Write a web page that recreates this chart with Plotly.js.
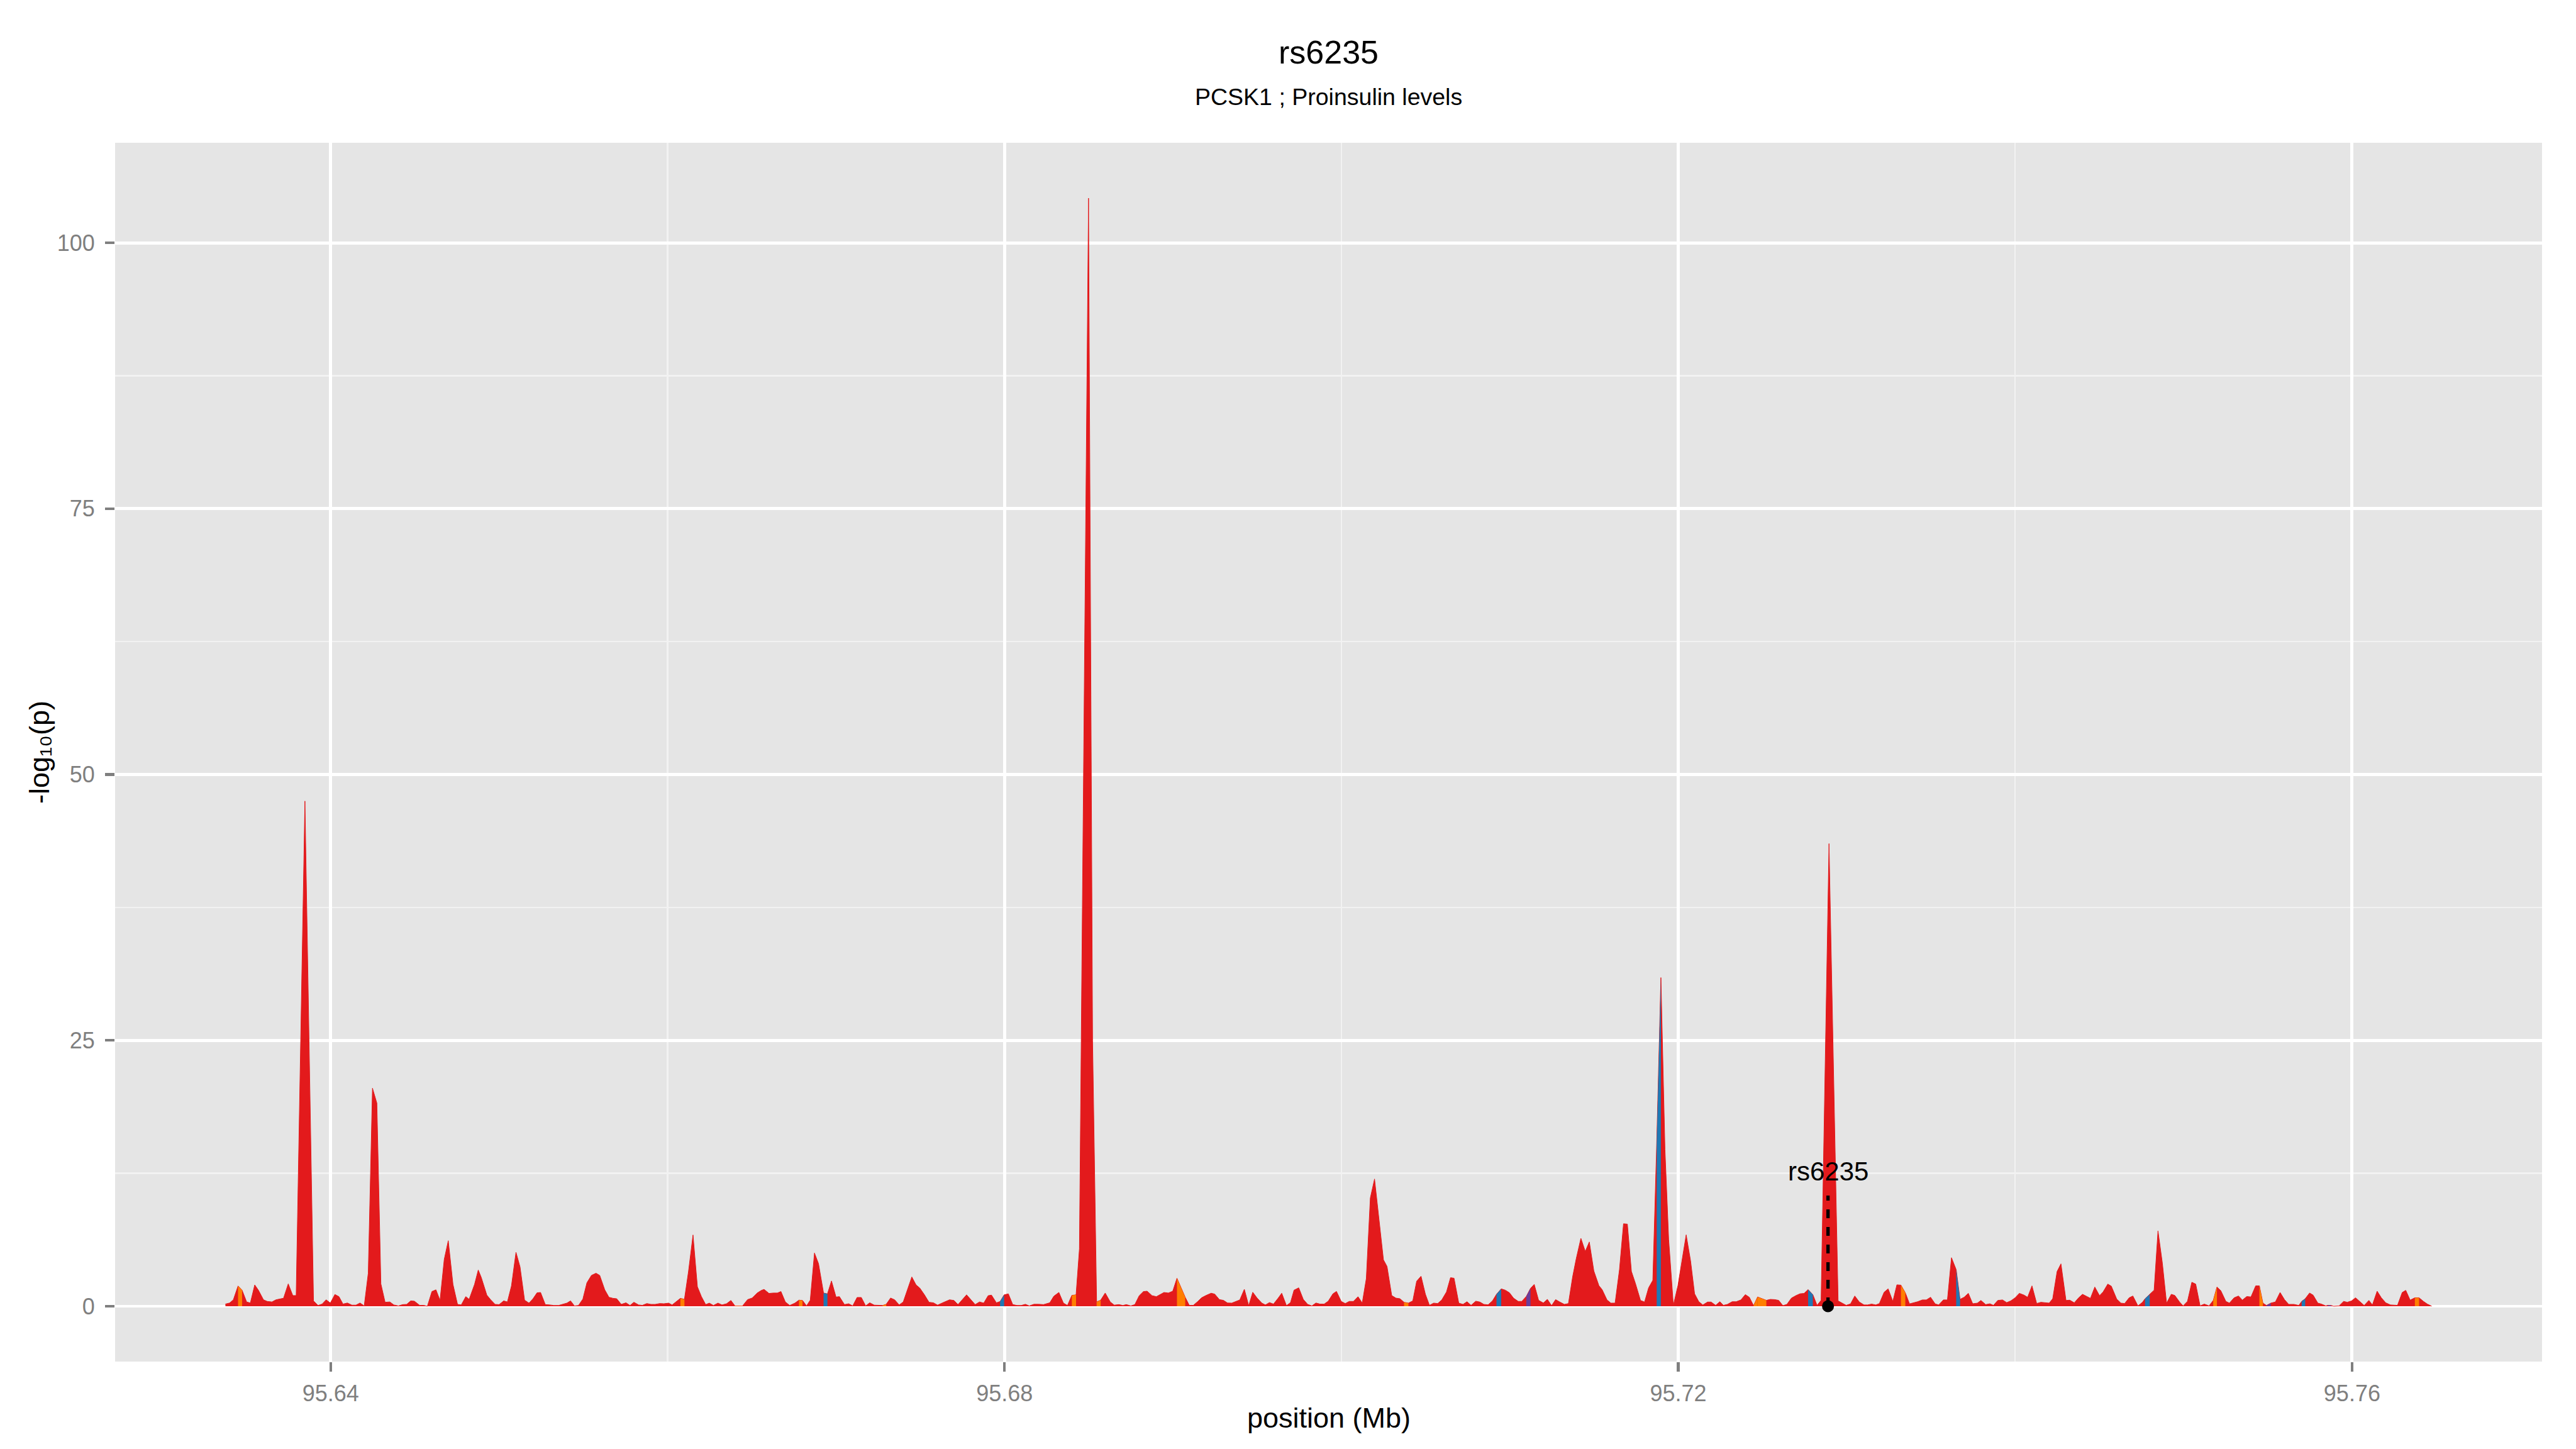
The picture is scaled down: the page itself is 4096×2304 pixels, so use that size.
<!DOCTYPE html>
<html>
<head>
<meta charset="utf-8">
<script src="https://cdn.plot.ly/plotly-3.0.1.min.js"></script>
<style>
  html, body { margin: 0; padding: 0; background: #ffffff; }
  #chart { width: 4096px; height: 2304px; }
</style>
</head>
<body>
<div id="chart"></div>
<script>
// ---------------- DATA ----------------
const chartTitle = 'rs6235';
const chartSubtitle = 'PCSK1 ; Proinsulin levels';
const xAxisTitle = 'position (Mb)';
const yAxisTitle = '-log\u2081\u2080(p)';

// SNP positions (Mb)
const positionMb = [
95.63375,95.63400,95.63422,95.63450,95.63474,95.63488,95.63501,95.63523,95.63549,95.63571,
95.63601,95.63623,95.63651,95.63675,95.63720,95.63748,95.63775,95.63795,95.63847,95.63898,
95.63925,95.63949,95.63973,95.63998,95.64025,95.64049,95.64073,95.64099,95.64126,95.64150,
95.64174,95.64199,95.64223,95.64248,95.64274,95.64298,95.64323,95.64351,95.64375,95.64402,
95.64428,95.64451,95.64475,95.64497,95.64528,95.64552,95.64574,95.64601,95.64625,95.64649,
95.64674,95.64698,95.64726,95.64753,95.64775,95.64802,95.64822,95.64854,95.64876,95.64894,
95.64927,95.64949,95.64976,95.65000,95.65027,95.65049,95.65073,95.65100,95.65124,95.65151,
95.65177,95.65201,95.65225,95.65246,95.65274,95.65301,95.65325,95.65353,95.65380,95.65402,
95.65424,95.65447,95.65471,95.65497,95.65521,95.65548,95.65575,95.65597,95.65627,95.65652,
95.65676,95.65698,95.65725,95.65753,95.65777,95.65800,95.65828,95.65850,95.65877,95.65901,
95.65926,95.65954,95.65978,95.66006,95.66027,
95.66049,95.66076,95.66100,95.66124,95.66151,95.66177,95.66201,95.66226,95.66248,95.66272,
95.66299,95.66323,95.66350,95.66376,95.66400,95.66445,95.66475,95.66502,95.66532,95.66557,
95.66573,95.66602,95.66628,95.66652,95.66673,95.66699,95.66725,95.66756,95.66780,95.66801,
95.66825,95.66847,95.66872,95.66896,95.66926,95.66949,95.66973,95.67000,95.67020,95.67050,
95.67075,95.67099,95.67125,95.67150,95.67176,95.67200,95.67227,95.67253,95.67277,95.67298,
95.67324,95.67348,95.67375,95.67399,95.67450,95.67475,95.67497,95.67525,95.67552,95.67578,
95.67603,95.67633,95.67674,95.67700,95.67724,95.67775,95.67802,95.67826,95.67852,95.67877,
95.67903,95.67923,95.67952,95.67974,95.67998,95.68023,95.68049,95.68074,95.68100,95.68124,
95.68147,95.68175,95.68202,95.68232,95.68269,95.68293,95.68323,95.68350,95.68374,95.68400,
95.68425,95.68445,95.68499,95.68523,95.68547,95.68571,95.68598,95.68628,95.68652,95.68679,
95.68703,95.68723,95.68750,95.68774,95.68800,95.68825,95.68847,95.68876,95.68902,95.68947,
95.68973,95.68999,95.69024,
95.69073,95.69097,95.69121,95.69146,95.69170,95.69195,95.69227,95.69248,95.69276,95.69300,
95.69324,95.69349,95.69373,95.69397,95.69424,95.69450,95.69474,95.69500,95.69528,95.69549,
95.69573,95.69597,95.69625,95.69646,95.69674,95.69698,95.69719,95.69747,95.69774,95.69800,
95.69825,95.69849,95.69873,95.69898,95.69922,95.69950,95.69971,95.69999,95.70023,95.70047,
95.70072,95.70099,95.70124,95.70148,95.70172,95.70197,95.70250,95.70271,95.70299,95.70324,
95.70348,95.70372,95.70398,95.70424,95.70447,95.70473,95.70499,95.70523,95.70548,95.70572,
95.70596,95.70624,95.70648,95.70669,95.70697,95.70722,95.70746,95.70770,95.70798,95.70822,
95.70846,95.70871,95.70897,95.70921,95.70949,95.70973,95.70998,95.71022,95.71050,95.71071,
95.71098,
95.71123,95.71145,95.71171,95.71199,95.71223,95.71248,95.71272,95.71297,95.71324,95.71348,
95.71373,95.71394,95.71422,95.71448,95.71472,95.71499,95.71529,95.71548,95.71577,95.71600,
95.71625,95.71651,95.71675,95.71698,95.71722,95.71746,95.71776,95.71800,95.71824,95.71849,
95.71872,95.71897,95.71921,95.71943,95.71971,95.71998,95.72023,95.72047,95.72073,95.72097,
95.72122,95.72146,95.72174,95.72195,95.72222,95.72247,95.72268,95.72292,95.72320,95.72344,
95.72372,95.72398,95.72422,95.72447,95.72471,95.72523,95.72547,95.72572,95.72596,95.72621,
95.72645,95.72672,95.72699,95.72723,95.72747,95.72771,95.72799,95.72824,95.72848,95.72895,
95.72949,95.72975,95.72997,95.73023,95.73048,95.73075,95.73103,95.73124,95.73148,95.73173,
95.73194,95.73222,95.73246,95.73274,95.73298,95.73322,95.73348,95.73373,95.73397,95.73421,
95.73449,95.73473,95.73498,95.73525,95.73546,95.73574,95.73598,
95.73622,95.73650,95.73673,95.73697,95.73722,95.73748,95.73776,95.73797,95.73825,95.73850,
95.73871,95.73897,95.73925,95.73950,95.73974,95.74000,95.74025,95.74053,95.74074,95.74100,
95.74128,95.74153,95.74177,95.74202,95.74223,95.74249,95.74272,95.74302,95.74324,95.74351,
95.74377,95.74400,95.74426,95.74447,95.74473,95.74501,95.74522,95.74550,95.74571,95.74603,
95.74628,95.74650,95.74677,95.74699,95.74729,95.74756,95.74771,95.74799,95.74825,95.74848,
95.74874,95.74899,95.74927,95.74948,95.74976,95.74997,95.75023,95.75049,95.75072,95.75098,
95.75123,95.75151,95.75176,95.75198,95.75221,95.75251,95.75272,95.75300,95.75326,95.75349,
95.75375,95.75400,95.75428,95.75450,95.75471,95.75492,95.75518,95.75545,95.75573,95.75599,
95.75624,95.75656,95.75684,95.75701,95.75722,95.75748,95.75769,95.75797,95.75818,95.75844,
95.75855,95.75876,95.75891,95.75923,95.75950,95.75972,95.75997,95.76021,95.76051,95.76072,
95.76100,95.76121,95.76149,95.76174,95.76200,95.76228,95.76270,95.76298,95.76319,95.76345,
95.76373,95.76398,95.76424,95.76447,95.76473
];

// -log10(p) at each position
const negLog10P = [
0.2,0.3,0.6,1.9,1.5,0.9,0.4,0.3,2.0,1.5,
0.6,0.45,0.4,0.6,0.75,2.1,1.0,1.0,47.5,0.5,
0.07,0.2,0.6,0.3,1.1,0.9,0.2,0.3,0.1,0.1,
0.3,0.03,3.1,20.5,19.1,2.1,0.37,0.4,0.12,0.03,
0.15,0.17,0.5,0.47,0.08,0.08,0,1.38,1.54,0.54,
4.4,6.16,2.05,0.17,0.12,0.9,0.65,2.05,3.4,2.7,
1.04,0.62,0.17,0.15,0.5,0.4,1.9,5.07,3.7,0.57,
0.29,0.7,1.26,1.29,0.15,0.12,0.07,0.07,0.17,0.29,
0.5,0.03,0.07,0.67,2.2,2.9,3.1,2.9,1.54,0.84,
0.74,0.7,0.17,0.32,0.07,0.37,0.12,0.08,0.25,0.17,
0.17,0.25,0.23,0.29,0.12,
0.4,0.74,0.65,3.25,6.7,1.83,0.9,0.15,0.29,0.07,
0.29,0.12,0.23,0.54,0.03,0.03,0.62,0.77,1.24,1.49,
1.58,1.2,1.24,1.24,1.38,0.4,0.07,0.29,0.57,0.54,
0.03,0.57,5.0,4.0,1.24,1.16,2.37,0.86,0.9,0.15,
0.23,0.03,0.82,0.82,0.03,0.32,0.1,0.1,0.07,0.18,
0.77,0.6,0.12,0.4,2.75,2.0,1.71,1.07,0.37,0.32,
0.1,0.32,0.6,0.54,0.15,1.07,0.6,0.15,0.4,0.29,
0.99,1.04,0.32,0.44,1.07,1.16,0.15,0.07,0.07,0.18,
0.03,0.18,0.18,0.15,0.32,0.94,1.29,0.29,0.07,1.02,
1.07,5.4,104.2,25,0.4,0.57,1.24,0.4,0.1,0.15,
0.07,0.15,0.03,0.15,0.99,1.38,1.41,0.99,0.9,1.29,
1.24,1.41,2.63,
0.84,0.08,0.08,0.42,0.79,1.0,1.22,1.14,0.62,0.55,
0.3,0.29,0.45,0.59,1.59,0.05,1.31,0.76,0.29,0.12,
0.34,0.2,0.76,1.22,0.05,0.34,1.51,1.73,0.64,0.17,
0.03,0.3,0.2,0.2,0.47,1.17,1.39,0.45,0.25,0.45,
0.45,0.89,0.3,2.6,10.18,11.96,4.36,3.74,1.0,0.76,
0.7,0.37,0.29,0.5,2.35,2.82,1.12,0.08,0.29,0.25,
0.59,1.34,2.68,2.63,0.29,0.17,0.42,0.08,0.47,0.39,
0.17,0.13,0.5,1.12,1.63,1.51,1.26,0.76,0.45,0.45,
0.92,
1.68,2.05,0.55,0.3,0.64,0.05,0.62,0.39,0.17,0.25,
2.77,4.45,6.38,5.15,6.04,3.31,1.93,1.56,0.59,0.29,
0.29,3.44,7.75,7.72,3.27,2.13,0.54,0.39,1.73,2.43,
15.3,30.9,14.75,6.3,0.08,1.93,4.45,6.71,4.28,1.17,
0.42,0.12,0.39,0.39,0.08,0.42,0.08,0.17,0.42,0.42,
0.59,1.09,0.84,0.05,0.87,0.55,0.64,0.62,0.55,0.05,
0.17,0.76,1.0,1.17,1.2,1.56,1.09,0.08,0.55,43.5,
0.5,0.25,0.08,0.22,0.96,0.39,0.12,0.12,0.2,0.12,
0.25,1.31,1.63,0.45,2.01,1.98,1.26,0.22,0.3,0.42,
0.59,0.59,0.84,0.22,0.12,0.59,0.59,
4.56,3.44,0.65,0.84,1.21,0.23,0.29,0.54,0.15,0.23,
0.08,0.54,0.59,0.34,0.5,0.79,1.21,1.04,0.84,1.91,
0.25,0.37,0.32,0.29,0.7,3.26,3.98,0.54,0.57,0.32,
0.79,1.12,0.91,0.74,1.8,0.99,1.34,2.08,1.88,0.67,
0.29,0.25,0.79,0.96,0.03,0.37,0.7,1.12,1.51,7.08,
4.06,0.29,1.12,1.01,0.4,0.03,0.45,2.25,2.08,0.03,
0.2,0.03,0.54,1.8,1.46,0.45,0.29,0.79,0.96,0.57,
0.91,0.87,1.91,1.91,0.29,0.07,0.29,0.4,1.29,0.62,
0.17,0.17,0.07,0.45,0.7,1.24,1.04,0.29,0.2,0.03,
0.08,0.07,0,0.03,0.45,0.37,0.5,0.79,0.34,0.07,
0.54,0.12,1.41,0.79,0.32,0.12,0.08,1.29,1.49,0.57,
0.79,0.79,0.45,0.2,0
];

// Intervals (starting SNP) belonging to other LD classes than the main one
const ldStartMb = [
95.63450,95.66076,95.66400,95.66780,95.66926,95.67277,95.67974,95.68400,95.68547,95.69024,
95.70372,95.70921,95.71098,95.71872,95.72447,95.72471,95.72771,95.73322,95.73650,95.74771,
95.75176,95.75450,95.75492,95.75701,95.75855,95.76373
];
const ldClass = [
'B','B','B','B','C','B','C','B','B','B',
'B','C','D','C','B','B','C','B','C','C',
'B','B','D','C','D','B'
];

// highlighted SNP
const snpName = 'rs6235';
const snpPosMb = 95.72889;
const snpBaseY = 0;
const snpDashTopY = 10.4;
const snpLabelY = 12.7;

const xTickVals = [95.64, 95.68, 95.72, 95.76];
const xTickText = ['95.64', '95.68', '95.72', '95.76'];
const xMinorVals = [95.66, 95.70, 95.74];
const yTickVals = [0, 25, 50, 75, 100];
const yTickText = ['0', '25', '50', '75', '100'];
const yMinorVals = [12.5, 37.5, 62.5, 87.5];

// ---------------- STYLE ----------------
const FONT = '"Liberation Sans", Arial, Helvetica, sans-serif';
const classColor = { A: '#E31A1C', B: '#FF7F00', C: '#1F78B4', D: '#6A3D9A' };

// ---------------- TRACES ----------------
const traces = [];
traces.push({
  type: 'scatter', mode: 'lines',
  x: positionMb, y: negLog10P,
  fill: 'tozeroy', fillcolor: classColor.A,
  line: { color: classColor.A, width: 1 },
  hoverinfo: 'skip', showlegend: false
});

function nearestIndex(v) {
  let best = 0, bd = Infinity;
  for (let i = 0; i < positionMb.length; i++) {
    const d = Math.abs(positionMb[i] - v);
    if (d < bd) { bd = d; best = i; }
  }
  return best;
}
ldStartMb.forEach((s, k) => {
  const i = nearestIndex(s);
  if (i + 1 >= positionMb.length) return;
  traces.push({
    type: 'scatter', mode: 'none',
    x: [positionMb[i], positionMb[i + 1]],
    y: [negLog10P[i], negLog10P[i + 1]],
    fill: 'tozeroy', fillcolor: classColor[ldClass[k]],
    hoverinfo: 'skip', showlegend: false
  });
});

traces.push({
  type: 'scatter', mode: 'lines',
  x: [snpPosMb, snpPosMb], y: [snpBaseY, snpDashTopY],
  line: { color: '#000000', width: 5.3, dash: '14px,14px' },
  hoverinfo: 'skip', showlegend: false
});
traces.push({
  type: 'scatter', mode: 'markers',
  x: [snpPosMb], y: [snpBaseY],
  marker: { color: '#000000', size: 19 },
  hoverinfo: 'skip', showlegend: false
});

// ---------------- LAYOUT ----------------
const M = { l: 183, r: 54, t: 227, b: 139 };
const plotH = 2304 - M.t - M.b;
const plotW = 4096 - M.l - M.r;
function pyToPaper(py) { return (2304 - M.b - py) / plotH; }
function pxToPaper(px) { return (px - M.l) / plotW; }

const axisCommon = {
  ticks: 'outside', ticklen: 15, tickwidth: 4.5, tickcolor: '#7F7F7F',
  tickfont: { family: FONT, size: 36, color: '#7F7F7F' },
  showgrid: true, gridcolor: '#FFFFFF', gridwidth: 4.8,
  zeroline: false, showline: false, fixedrange: true
};

const layout = {
  width: 4096, height: 2304,
  margin: M,
  paper_bgcolor: '#FFFFFF',
  plot_bgcolor: '#E5E5E5',
  font: { family: FONT, color: '#000000' },
  showlegend: false,
  xaxis: Object.assign({}, axisCommon, {
    range: [95.6272, 95.77128],
    tickmode: 'array', tickvals: xTickVals, ticktext: xTickText,
    ticklabelstandoff: 4,
    minor: { tickmode: 'array', tickvals: xMinorVals, showgrid: true, gridcolor: '#F2F2F2', gridwidth: 2.4, ticks: '' }
  }),
  yaxis: Object.assign({}, axisCommon, {
    range: [-5.21, 109.41],
    tickmode: 'array', tickvals: yTickVals, ticktext: yTickText,
    ticklabelstandoff: 9,
    minor: { tickmode: 'array', tickvals: yMinorVals, showgrid: true, gridcolor: '#F2F2F2', gridwidth: 2.4, ticks: '' }
  }),
  annotations: [
    { text: chartTitle, xref: 'paper', yref: 'paper', x: 0.5, y: pyToPaper(83),
      xanchor: 'center', yanchor: 'middle', showarrow: false,
      font: { family: FONT, size: 52, color: '#000000' } },
    { text: chartSubtitle, xref: 'paper', yref: 'paper', x: 0.5, y: pyToPaper(153.5),
      xanchor: 'center', yanchor: 'middle', showarrow: false,
      font: { family: FONT, size: 37.5, color: '#000000' } },
    { text: xAxisTitle, xref: 'paper', yref: 'paper', x: 0.5, y: pyToPaper(2254),
      xanchor: 'center', yanchor: 'middle', showarrow: false,
      font: { family: FONT, size: 45, color: '#000000' } },
    { text: yAxisTitle, xref: 'paper', yref: 'paper', x: pxToPaper(62), y: 0.5,
      xanchor: 'center', yanchor: 'middle', showarrow: false, textangle: -90,
      font: { family: FONT, size: 45, color: '#000000' } },
    { text: snpName, xref: 'x', yref: 'y', x: snpPosMb, y: snpLabelY,
      xanchor: 'center', yanchor: 'middle', showarrow: false,
      font: { family: FONT, size: 42, color: '#000000' } }
  ]
};

Plotly.newPlot('chart', traces, layout, { staticPlot: true, displayModeBar: false });
</script>
</body>
</html>
